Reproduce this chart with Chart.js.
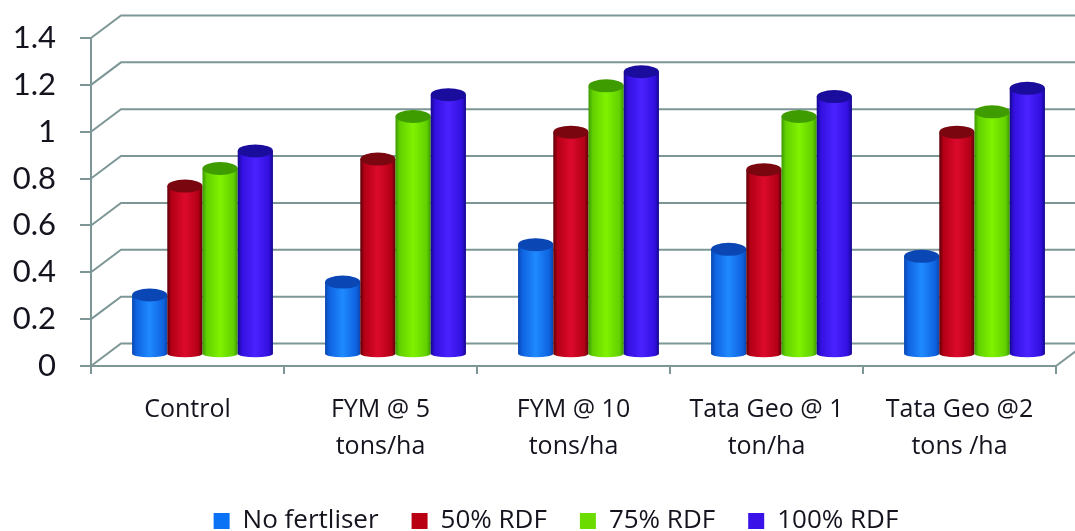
<!DOCTYPE html>
<html>
<head>
<meta charset="utf-8">
<style>html,body{margin:0;padding:0;background:#fff}canvas{display:block}</style>
<script src="https://cdn.jsdelivr.net/npm/chart.js@4"></script>
</head>
<body>
<canvas id="c" width="1075" height="531"></canvas>
<script>
const categories = [["Control"],["FYM @ 5","tons/ha"],["FYM @ 10","tons/ha"],["Tata Geo @ 1","ton/ha"],["Tata Geo @2","tons /ha"]];
const noFertiliser = [0.255,0.31,0.47,0.45,0.42];
const rdf50 = [0.72,0.835,0.95,0.79,0.95];
const rdf75 = [0.795,1.017,1.148,1.017,1.037];
const rdf100 = [0.87,1.11,1.208,1.102,1.137];
const yMax = 1.4, yStep = 0.2;
const seriesLabels = ["No fertliser","50% RDF","75% RDF","100% RDF"];
const legendColors = ["#0a72f5","#b80012","#6cdc00","#3a12e8"];
// cylinder shading: edge, body, highlight, cap
const shades = [
  ["#0a46b0","#0f63e0","#1f8aff","#0a46b4"],
  ["#5c0008","#b30016","#dc0a2c","#7a0610"],
  ["#3c9a00","#62d000","#80f200","#3f9c00"],
  ["#14088c","#3310e0","#4a22ff","#1a0c9c"]
];
const depthX = 30, depthY = 22.5;
const gridColor = "#7d9696";
const textColor = "#14141f";
const fontFamily = "'Open Sans', sans-serif";

const cylinders = {
  id: "cylinders",
  afterLayout(chart) {
    const lg = chart.legend;
    lg.left += 28; lg.right += 28;
    lg.top += 2; lg.bottom += 2;
  },
  beforeDatasetsDraw(chart) {
    const {ctx, scales:{x, y}} = chart;
    ctx.save();
    // wall / floor grid lines
    ctx.strokeStyle = gridColor;
    ctx.lineWidth = 2;
    y.ticks.forEach(t => {
      const py = y.getPixelForValue(t.value);
      ctx.beginPath();
      ctx.moveTo(x.left, py);
      ctx.lineTo(x.left + depthX, py - depthY);
      ctx.lineTo(chart.width + 10, py - depthY);
      ctx.stroke();
    });
    ctx.beginPath();
    ctx.moveTo(x.right, y.bottom);
    ctx.lineTo(x.right + depthX, y.bottom - depthY);
    ctx.stroke();
    // cylinders
    const ox = depthX / 2, oy = depthY / 2;
    chart.data.labels.forEach((_, i) => {
      chart.data.datasets.forEach((ds, d) => {
        const el = chart.getDatasetMeta(d).data[i];
        const w = el.width, rx = w / 2, ry = 6.5;
        const cx = el.x + ox, top = el.y - oy, base = el.base - oy;
        const s = shades[d];
        const g = ctx.createLinearGradient(cx - rx, 0, cx + rx, 0);
        g.addColorStop(0, s[0]);
        g.addColorStop(0.12, s[1]);
        g.addColorStop(0.5, s[2]);
        g.addColorStop(0.88, s[1]);
        g.addColorStop(1, s[0]);
        ctx.fillStyle = g;
        ctx.beginPath();
        ctx.moveTo(cx - rx, top);
        ctx.lineTo(cx - rx, base);
        ctx.ellipse(cx, base, rx, 3.5, 0, Math.PI, 0, true);
        ctx.lineTo(cx + rx, top);
        ctx.closePath();
        ctx.fill();
        ctx.fillStyle = s[3];
        ctx.beginPath();
        ctx.ellipse(cx, top, rx, ry, 0, 0, Math.PI * 2);
        ctx.fill();
      });
    });
    ctx.restore();
    return false;
  }
};

new Chart(document.getElementById("c"), {
  type: "bar",
  data: {
    labels: categories,
    datasets: [noFertiliser, rdf50, rdf75, rdf100].map((values, i) => ({
      label: seriesLabels[i],
      data: values,
      backgroundColor: legendColors[i],
      borderWidth: 0
    }))
  },
  plugins: [cylinders],
  options: {
    responsive: false,
    animation: false,
    layout: {autoPadding: false, padding: {left: 0, right: 19, top: 38, bottom: -11}},
    datasets: {bar: {categoryPercentage: 0.73, barPercentage: 1}},
    scales: {
      x: {
        afterFit(s) { s.height = 107; },
        grid: {drawOnChartArea: false, color: gridColor, lineWidth: 2, tickLength: 8},
        border: {color: gridColor, width: 2},
        ticks: {maxRotation: 0, autoSkip: false, color: textColor, padding: 17,
                font: {family: fontFamily, size: 25, lineHeight: 1.48}}
      },
      y: {
        min: 0, max: yMax,
        afterFit(s) { s.width = 91; s.paddingTop = 0; s.paddingBottom = 0; },
        grid: {drawOnChartArea: false, color: gridColor, lineWidth: 2, tickLength: 11},
        border: {color: gridColor, width: 2},
        ticks: {stepSize: yStep, color: textColor, padding: 24,
                callback: v => String(+v.toFixed(1)),
                font: {family: "Lato, sans-serif", size: 31}}
      }
    },
    plugins: {
      tooltip: {enabled: false},
      legend: {
        position: "bottom",
        labels: {boxWidth: 16, boxHeight: 16, padding: 33, color: textColor,
                 font: {family: fontFamily, size: 26}}
      }
    }
  }
});
</script>
</body>
</html>
